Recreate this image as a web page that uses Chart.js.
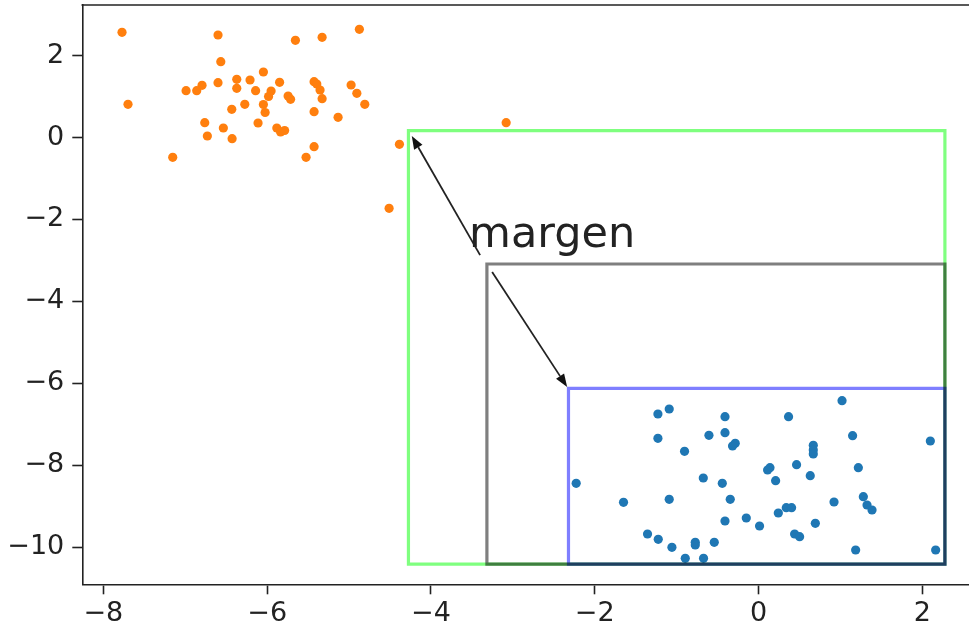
<!DOCTYPE html>
<html><head><meta charset="utf-8">
<script src="https://cdn.jsdelivr.net/npm/chart.js@4/dist/chart.umd.min.js"></script>
<style>html,body{margin:0;padding:0;background:#fff;overflow:hidden;width:969px;height:627px}</style>
</head><body>
<canvas id="c" width="974" height="627"></canvas>
<script>
// ---- data ----
const orangeX = [-7.772,-6.600,-5.655,-5.329,-4.874,-6.566,-6.046,-6.371,-6.371,-6.209,-5.848,-6.600,-6.795,-6.860,-6.990,-6.141,-5.952,-5.983,-6.046,-6.025,-6.111,-5.744,-5.714,-7.699,-6.273,-6.432,-6.762,-6.535,-5.882,-5.836,-5.787,-6.730,-6.428,-7.153,-5.427,-5.394,-5.354,-5.329,-4.975,-4.905,-4.808,-5.427,-5.134,-5.427,-5.525,-4.385,-3.082,-4.511];
const orangeY = [2.572,2.506,2.377,2.450,2.645,1.854,1.602,1.424,1.204,1.407,1.351,1.341,1.277,1.146,1.146,1.146,1.138,1.004,0.808,0.613,0.357,1.016,0.935,0.813,0.813,0.691,0.364,0.234,0.234,0.137,0.173,0.039,-0.027,-0.481,1.365,1.309,1.163,0.950,1.285,1.082,0.813,0.633,0.496,-0.222,-0.481,-0.164,0.364,-1.727];
const blueX = [1.019,-1.229,-1.091,-0.410,0.366,-1.229,-0.606,-0.410,-0.285,-0.318,-0.904,0.668,0.668,0.668,1.148,2.097,-2.227,-0.675,-0.443,0.139,0.110,0.208,0.464,0.631,1.218,-1.649,-1.091,-0.346,0.241,0.338,0.403,0.921,1.279,1.324,1.385,-0.410,-0.150,0.012,0.693,-1.356,-1.225,-1.058,-0.773,-0.773,-0.541,-0.895,-0.672,0.440,0.501,1.185,2.162];
const blueY = [-6.426,-6.751,-6.629,-6.817,-6.817,-7.345,-7.272,-7.208,-7.467,-7.533,-7.662,-7.516,-7.631,-7.728,-7.281,-7.411,-8.444,-8.315,-8.444,-8.063,-8.119,-8.381,-7.990,-8.258,-8.063,-8.908,-8.835,-8.835,-9.169,-9.040,-9.040,-8.901,-8.771,-8.974,-9.096,-9.365,-9.292,-9.487,-9.421,-9.682,-9.812,-10.007,-9.885,-9.951,-9.885,-10.276,-10.276,-9.682,-9.748,-10.073,-10.073];
const xTicks = [-8,-6,-4,-2,0,2];
const yTicks = [2,0,-2,-4,-6,-8,-10];
// rectangles: green (outer), gray (middle), blue (data box)
const rectNames  = ['green','gray','blue'];
const rectLeft   = [-4.275,-3.317,-2.321];
const rectTop    = [0.169,-3.087,-6.124];
const rectRight  = [2.275,2.275,2.275];
const rectBottom = [-10.42,-10.42,-10.42];
const annText = 'margen';
const annTextX = -3.535, annTextY = -2.672;
const arrowFromX = [-3.40,-3.253], arrowFromY = [-2.87,-3.283];
const arrowToX = [-4.234,-2.337], arrowToY = [0.04,-6.092];

// ---- styles ----
const rectColors = ['rgba(0,255,0,0.5)','rgba(0,0,0,0.5)','rgba(0,0,255,0.5)'];
const rectOrder  = [3,1,2]; // green bottom, blue middle, gray on top
const FONT = 'DejaVu Sans';

function pts(xs, ys){ return xs.map((x,i)=>({x:x,y:ys[i]})); }
function rectPath(i){
  const mid=(rectLeft[i]+rectRight[i])/2;
  return [{x:mid,y:rectTop[i]},{x:rectRight[i],y:rectTop[i]},{x:rectRight[i],y:rectBottom[i]},
          {x:rectLeft[i],y:rectBottom[i]},{x:rectLeft[i],y:rectTop[i]},{x:mid,y:rectTop[i]}];
}

const datasets = [
  {label:'orange', data:pts(orangeX,orangeY), backgroundColor:'#ff7f0e', borderWidth:0, pointRadius:4.6, order:10},
  {label:'blue', data:pts(blueX,blueY), backgroundColor:'#1f77b4', borderWidth:0, pointRadius:4.6, order:9},
];
rectNames.forEach((n,i)=>{
  datasets.push({label:n, data:rectPath(i), showLine:true, borderColor:rectColors[i], borderWidth:3.2,
    pointRadius:0, fill:false, tension:0, borderJoinStyle:'miter', borderCapStyle:'butt', order:rectOrder[i], clip:false});
});

const extras = {
  id:'extras',
  afterDatasetsDraw(chart){
    const ctx=chart.ctx, xs=chart.scales.x, ys=chart.scales.y, a=chart.chartArea;
    ctx.save();
    // top spine
    ctx.strokeStyle='#222'; ctx.lineWidth=1.6;
    ctx.beginPath(); ctx.moveTo(a.left-0.8,a.top); ctx.lineTo(a.right+6,a.top); ctx.stroke();
    // arrows
    ctx.strokeStyle='#222'; ctx.fillStyle='#111'; ctx.lineWidth=1.8;
    for(let i=0;i<arrowFromX.length;i++){
      const x1=xs.getPixelForValue(arrowFromX[i]), y1=ys.getPixelForValue(arrowFromY[i]);
      const x2=xs.getPixelForValue(arrowToX[i]), y2=ys.getPixelForValue(arrowToY[i]);
      const ang=Math.atan2(y2-y1,x2-x1), hl=13, hw=4.8;
      const bx=x2-hl*Math.cos(ang), by=y2-hl*Math.sin(ang);
      ctx.beginPath(); ctx.moveTo(x1,y1); ctx.lineTo(bx,by); ctx.stroke();
      ctx.beginPath(); ctx.moveTo(x2,y2);
      ctx.lineTo(bx+hw*Math.sin(ang), by-hw*Math.cos(ang));
      ctx.lineTo(bx-hw*Math.sin(ang), by+hw*Math.cos(ang));
      ctx.closePath(); ctx.fill();
    }
    // annotation text
    ctx.fillStyle='#222'; ctx.font='43px "'+FONT+'"'; ctx.textBaseline='alphabetic'; ctx.textAlign='left';
    ctx.fillText(annText, xs.getPixelForValue(annTextX), ys.getPixelForValue(annTextY));
    ctx.restore();
  }
};

new Chart(document.getElementById('c'), {
  type:'scatter',
  data:{datasets:datasets},
  options:{
    responsive:false, animation:false, devicePixelRatio:1,
    layout:{padding:{top:5,left:0,right:0,bottom:0}},
    plugins:{legend:{display:false}, tooltip:{enabled:false}},
    scales:{
      x:{type:'linear', min:-8.257, max:2.574,
        afterBuildTicks(s){ s.ticks = xTicks.map(v=>({value:v})); },
        afterFit(s){ s.height = 42.7; s.paddingLeft = 0; s.paddingRight = 0; s.paddingTop = 0; s.paddingBottom = 0; },
        grid:{drawOnChartArea:false, drawTicks:true, tickLength:10, tickWidth:1.6, tickColor:'#222'},
        border:{display:true, color:'#222', width:1.6},
        ticks:{font:{family:FONT, size:27}, color:'#222', padding:3, maxRotation:0, autoSkip:false,
          callback:v=>String(v).replace('-','\u2212')}},
      y:{type:'linear', min:-10.911, max:3.239,
        afterBuildTicks(s){ s.ticks = yTicks.map(v=>({value:v})); },
        afterFit(s){ s.width = 82.3; s.paddingTop = 0; s.paddingBottom = 0; s.paddingLeft = 0; s.paddingRight = 0; },
        grid:{drawOnChartArea:false, drawTicks:true, tickLength:10, tickWidth:1.6, tickColor:'#222'},
        border:{display:true, color:'#222', width:1.6},
        ticks:{font:{family:FONT, size:27}, color:'#222', padding:8, autoSkip:false,
          callback:v=>String(v).replace('-','\u2212')}}
    }
  },
  plugins:[extras]
});
</script>
</body></html>
